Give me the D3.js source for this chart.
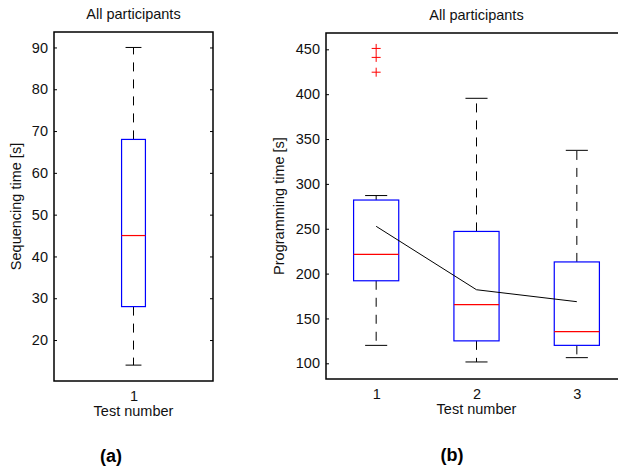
<!DOCTYPE html>
<html>
<head>
<meta charset="utf-8">
<script src="https://cdn.jsdelivr.net/npm/d3@7"></script>
<style>
  body { margin: 0; background: #fff; }
  svg { display: block; }
  text { font-family: "Liberation Sans", Arial, sans-serif; }
</style>
</head>
<body>
<div id="Area"></div>
<script>
// panel (a): sequencing time
let seqTests = ["1"];
let seqLow = [14];
let seqQ1 = [28];
let seqMedian = [45];
let seqQ3 = [68];
let seqHigh = [90];
let seqTicks = [20, 30, 40, 50, 60, 70, 80, 90];

// panel (b): programming time
let progTests = ["1", "2", "3"];
let progLow = [120, 101.5, 106.3];
let progQ1 = [192, 125, 120];
let progMedian = [221.5, 165.4, 135.3];
let progQ3 = [282, 247, 213];
let progHigh = [287, 395.4, 337.4];
let progOutliers = [[451, 441, 424.5], [], []];
let progMean = [252.7, 182, 168.7];
let progTicks = [100, 150, 200, 250, 300, 350, 400, 450];

var svg = d3.select("#Area")
    .append("svg")
    .attr("width", 618)
    .attr("height", 472);

function drawPanel(opt) {
    var g = svg.append("g");

    var x = d3.scaleLinear()
        .domain([0.5, opt.tests.length + 0.5])
        .range([opt.left, opt.right]);
    var y = d3.scaleLinear()
        .domain(opt.yDomain)
        .range([opt.bottom, opt.top]);

    // axes with inward ticks
    g.append("g")
        .attr("transform", "translate(" + opt.left + ",0)")
        .call(d3.axisLeft(y).tickValues(opt.ticks).tickSize(-3).tickPadding(6));
    g.append("g")
        .attr("transform", "translate(" + opt.right + ",0)")
        .call(d3.axisRight(y).tickValues(opt.ticks).tickSize(-3).tickFormat(""));
    g.append("g")
        .attr("transform", "translate(0," + opt.bottom + ")")
        .call(d3.axisBottom(x).tickValues(opt.tests.map((d, i) => i + 1))
            .tickFormat((d, i) => opt.tests[i]).tickSize(0).tickPadding(10));
    g.selectAll(".domain").remove();
    g.selectAll(".tick line").attr("stroke", "#000").attr("stroke-width", 1);
    g.selectAll(".tick text").attr("font-size", 14.5).attr("fill", "#111")
        .attr("font-family", "Liberation Sans, Arial, sans-serif");

    // frame
    g.append("rect")
        .attr("x", opt.left).attr("y", opt.top)
        .attr("width", opt.right - opt.left)
        .attr("height", opt.bottom - opt.top)
        .attr("fill", "none").attr("stroke", "#000").attr("stroke-width", 1.5);

    var boxW = opt.boxW, capW = opt.capW;
    opt.tests.forEach(function(t, i) {
        var cx = x(i + 1);
        var half = (x(1 + boxW / 2) - x(1));
        var capHalf = (x(1 + capW / 2) - x(1));

        // whiskers (dashed)
        g.append("line")
            .attr("x1", cx).attr("x2", cx)
            .attr("y1", y(opt.q3[i])).attr("y2", y(opt.high[i]))
            .attr("stroke", "#000").attr("stroke-dasharray", "9,8");
        g.append("line")
            .attr("x1", cx).attr("x2", cx)
            .attr("y1", y(opt.q1[i])).attr("y2", y(opt.low[i]))
            .attr("stroke", "#000").attr("stroke-dasharray", "9,8");
        // caps
        [opt.high[i], opt.low[i]].forEach(function(v) {
            g.append("line")
                .attr("x1", cx - capHalf).attr("x2", cx + capHalf)
                .attr("y1", y(v)).attr("y2", y(v))
                .attr("stroke", "#000");
        });
        // box
        g.append("rect")
            .attr("x", cx - half).attr("width", 2 * half)
            .attr("y", y(opt.q3[i])).attr("height", y(opt.q1[i]) - y(opt.q3[i]))
            .attr("fill", "none").attr("stroke", "#0000ff").attr("stroke-width", 1.2);
        // median
        g.append("line")
            .attr("x1", cx - half).attr("x2", cx + half)
            .attr("y1", y(opt.median[i])).attr("y2", y(opt.median[i]))
            .attr("stroke", "#ff0000").attr("stroke-width", 1.2);
        // outliers
        if (opt.outliers) {
            opt.outliers[i].forEach(function(v) {
                g.append("path")
                    .attr("d", "M" + (cx - 4.5) + "," + y(v) + "H" + (cx + 4.5) +
                        "M" + cx + "," + (y(v) - 4.5) + "V" + (y(v) + 4.5))
                    .attr("stroke", "#ff0000").attr("stroke-width", 1);
            });
        }
    });

    // mean line
    if (opt.mean) {
        g.append("path")
            .datum(opt.mean)
            .attr("d", d3.line().x((d, i) => x(i + 1)).y(d => y(d)))
            .attr("fill", "none").attr("stroke", "#000").attr("stroke-width", 1);
    }

    var midY = (opt.top + opt.bottom) / 2;

    // title
    g.append("text")
        .attr("x", x((opt.tests.length + 1) / 2)).attr("y", opt.titleY)
        .attr("text-anchor", "middle").attr("font-size", 14.5).attr("fill", "#111")
        .text("All participants");
    // x label
    g.append("text")
        .attr("x", x((opt.tests.length + 1) / 2)).attr("y", opt.xLabelY)
        .attr("text-anchor", "middle").attr("font-size", 14.5).attr("fill", "#111")
        .text("Test number");
    // y label
    g.append("text")
        .attr("transform", "translate(" + opt.yLabelX + "," + midY + ") rotate(-90)")
        .attr("text-anchor", "middle").attr("font-size", 14.5).attr("fill", "#111")
        .text(opt.yLabel);
    // caption
    g.append("text")
        .attr("x", opt.capX).attr("y", opt.capY)
        .attr("text-anchor", "middle")
        .attr("font-family", "DejaVu Serif, serif")
        .attr("font-weight", "bold").attr("font-size", 18)
        .text(opt.caption);
}

drawPanel({
    tests: seqTests, low: seqLow, q1: seqQ1, median: seqMedian, q3: seqQ3, high: seqHigh,
    ticks: seqTicks, yDomain: [10.2, 93.7],
    left: 54, right: 213, top: 32, bottom: 381,
    boxW: 0.15, capW: 0.1,
    titleY: 19, xLabelY: 416, yLabelX: 21, yLabel: "Sequencing time [s]",
    caption: "(a)", capX: 111, capY: 462
});

drawPanel({
    tests: progTests, low: progLow, q1: progQ1, median: progMedian, q3: progQ3, high: progHigh,
    outliers: progOutliers, mean: progMean,
    ticks: progTicks, yDomain: [82.5, 468.2],
    left: 326, right: 627, top: 33, bottom: 379,
    boxW: 0.45, capW: 0.22,
    titleY: 20, xLabelY: 414, yLabelX: 284, yLabel: "Programming time [s]",
    caption: "(b)", capX: 452, capY: 461
});
</script>
</body>
</html>
